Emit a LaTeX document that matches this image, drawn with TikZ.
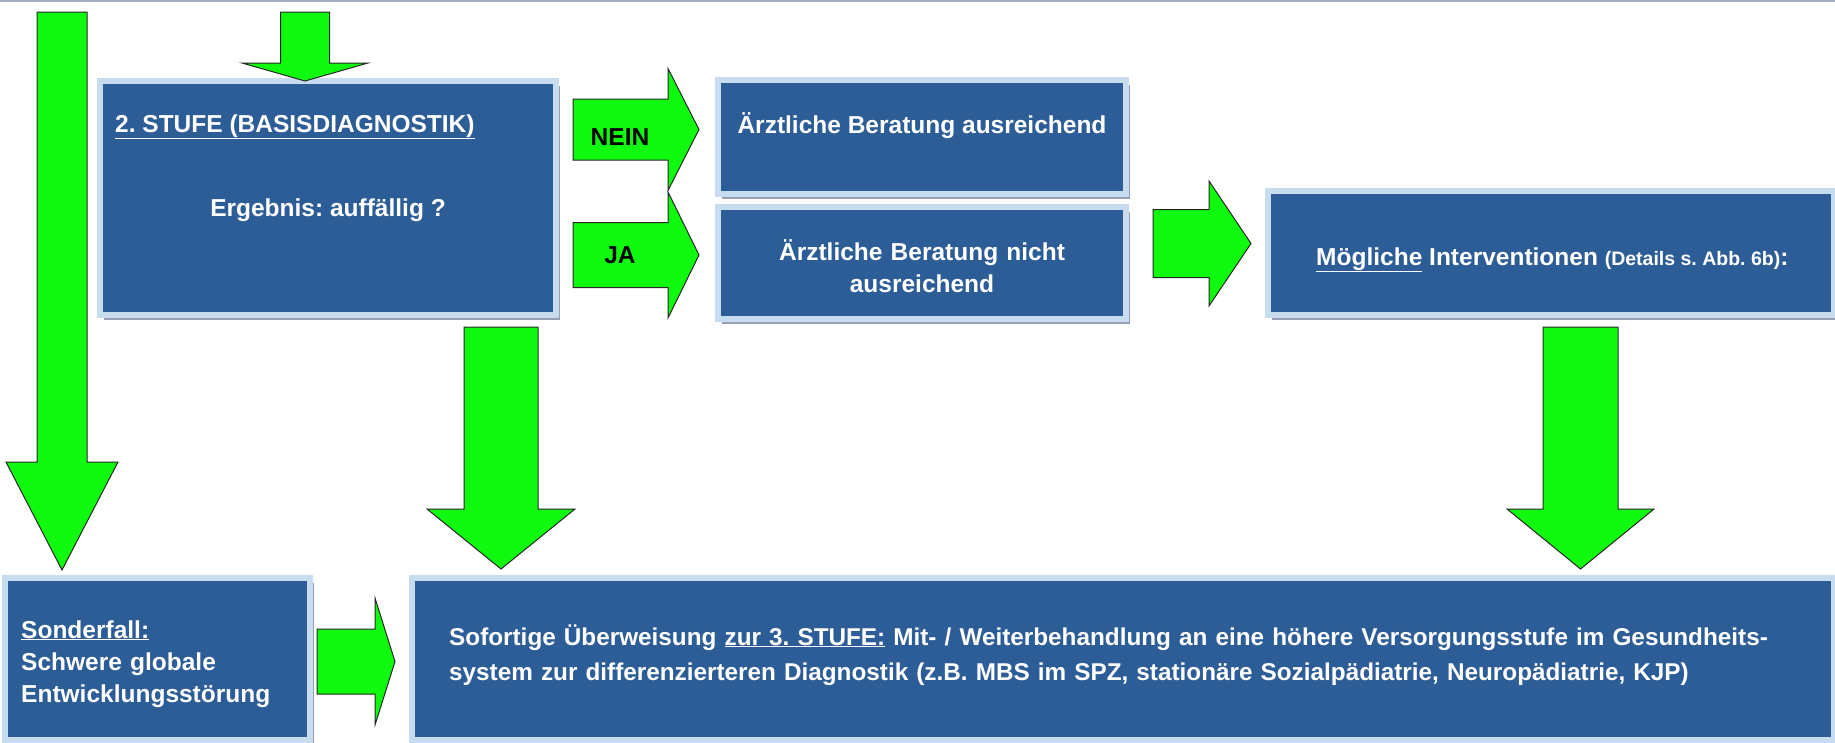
\documentclass[tikz,border=0pt]{standalone}
\usepackage{fontspec}
\setmainfont{Liberation Sans}
\usetikzlibrary{shadows}
\frenchspacing

\definecolor{boxblue}{RGB}{44,93,151}
\definecolor{boxlight}{RGB}{200,220,240}
\definecolor{boxshadow}{RGB}{150,160,180}
\definecolor{arrowgreen}{RGB}{16,250,16}
\definecolor{topgray}{RGB}{160,175,195}

\tikzset{
  stepbox/.style={draw=boxlight, fill=boxblue, line width=6pt, inner sep=0pt,
    drop shadow={shadow xshift=4pt, shadow yshift=-5pt, fill=boxshadow, opacity=1}},
  boxtext/.style={text=white, inner sep=0pt, font=\fontsize{24.5}{32}\selectfont\bfseries},
  armtext/.style={text=black, inner sep=0pt, font=\fontsize{24.5}{30}\selectfont\bfseries},
  fatarrow/.style={draw=black!85, fill=arrowgreen, line width=1pt, line join=miter},
}

% block arrows: tail, tip, half shaft, half head, head length
\newcommand{\fatdown}[5]{%
  \draw[fatarrow] ([xshift=-#3pt]#1) -- ([xshift=-#3pt,yshift=#5pt]#2)
    -- ([xshift=-#4pt,yshift=#5pt]#2) -- (#2) -- ([xshift=#4pt,yshift=#5pt]#2)
    -- ([xshift=#3pt,yshift=#5pt]#2) -- ([xshift=#3pt]#1) -- cycle;}
\newcommand{\fatright}[5]{%
  \draw[fatarrow] ([yshift=#3pt]#1) -- ([xshift=-#5pt,yshift=#3pt]#2)
    -- ([xshift=-#5pt,yshift=#4pt]#2) -- (#2) -- ([xshift=-#5pt,yshift=-#4pt]#2)
    -- ([xshift=-#5pt,yshift=-#3pt]#2) -- ([yshift=-#3pt]#1) -- cycle;}

\begin{document}
\begin{tikzpicture}[x=1pt,y=-1pt]
        \useasboundingbox (0,0) rectangle (1835,742);
        % Top rule
        \draw[topgray, line width=2pt] (0,1) -- (1835,1);
        % Boxes
        \node[stepbox, minimum width=456pt, minimum height=234pt] (stufe) at (328,198) {};
        \node[stepbox, minimum width=408pt, minimum height=114pt] (ausreichend) at (922,137) {};
        \node[stepbox, minimum width=408pt, minimum height=112pt] (nichtaus) at (922,263) {};
        \node[stepbox, minimum width=566pt, minimum height=124pt] (interv) at (1551,253) {};
        \node[stepbox, minimum width=305pt, minimum height=162pt] (sonder) at (157.5,659) {};
        \node[stepbox, minimum width=1422pt, minimum height=162pt] (ueber) at (1123,659) {};
        % Arrow ends
        \coordinate (sonderTail) at (62,12);
        \coordinate (sonderTip) at (62,570);
        \coordinate (stufeTail) at (305,12);
        \coordinate (stufeTip) at (305,81);
        \coordinate (neinTail) at (573,129.5);
        \coordinate (neinTip) at (699,129.5);
        \coordinate (jaTail) at (573,255);
        \coordinate (jaTip) at (699,255);
        \coordinate (intervTail) at (1153,243.5);
        \coordinate (intervTip) at (1251,243.5);
        \coordinate (midTail) at (501,327);
        \coordinate (midTip) at (501,569);
        \coordinate (rightTail) at (1580.5,327);
        \coordinate (rightTip) at (1580.5,569);
        \coordinate (bottomTail) at (317,661.5);
        \coordinate (bottomTip) at (395,661.5);
        % Green arrows
        \fatdown{sonderTail}{sonderTip}{25}{56}{108}
        \fatdown{stufeTail}{stufeTip}{24.5}{63}{18}
        \fatright{neinTail}{neinTip}{30.5}{61}{31}
        \fatright{jaTail}{jaTip}{32.5}{63}{31}
        \fatright{intervTail}{intervTip}{34}{62.5}{42}
        \fatdown{midTail}{midTip}{37}{74}{60}
        \fatdown{rightTail}{rightTip}{37.5}{73.5}{60}
        \fatright{bottomTail}{bottomTip}{32.5}{63.5}{20}
        % Labels
        \node[armtext, anchor=base] (nein) at (620,145) {NEIN};
        \node[armtext, anchor=base] (ja) at (620,263) {JA};
        \node[boxtext, anchor=base west] (stufetitle) at (115,132) {\underline{2. STUFE (BASISDIAGNOSTIK)}};
        \node[boxtext, anchor=base] (ergebnis) at (328,216) {Ergebnis: auffällig ?};
        \node[boxtext, anchor=base] (ausreichendtext) at (922,133) {Ärztliche Beratung ausreichend};
        \node[boxtext, anchor=base, text width=400pt, align=center] (nichtaustext) at (922,260)
          {Ärztliche Beratung nicht\\ausreichend};
        \node[boxtext, anchor=base west] (intervtext) at (1316,265)
          {\underline{Mögliche} Interventionen {\fontsize{19.5}{22}\selectfont (Details s. Abb. 6b)}:};
        \node[boxtext, anchor=base west, text width=290pt, align=left] (sondertext) at (21,638)
          {\underline{Sonderfall:}\\Schwere globale\\Entwicklungsstörung};
        \node[boxtext, anchor=base west, text width=1380pt, align=left,
          font=\fontsize{24.3}{35}\selectfont\bfseries] (uebertext) at (449,645)
          {Sofortige Überweisung \underline{zur 3. STUFE:} Mit- / Weiterbehandlung an eine höhere Versorgungsstufe im Gesundheits-\\system zur differenzierteren Diagnostik (z.B. MBS im SPZ, stationäre Sozialpädiatrie, Neuropädiatrie, KJP)};
    \end{tikzpicture}
\end{document}
